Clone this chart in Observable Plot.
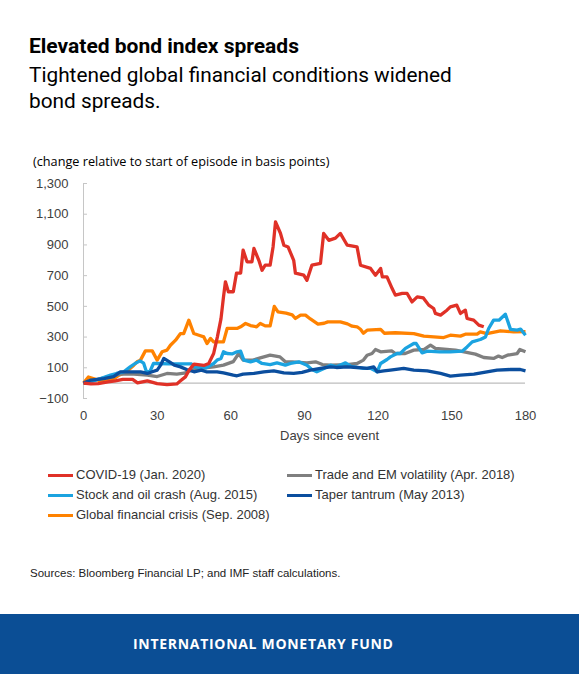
<!DOCTYPE html>
<html>
<head>
<meta charset="utf-8">
<script src="https://cdn.jsdelivr.net/npm/d3@7"></script>
<script src="https://cdn.jsdelivr.net/npm/@observablehq/plot@0.6"></script>
<style>
  html, body { margin: 0; padding: 0; background: #fff; }
  #page { position: relative; width: 579px; height: 674px; overflow: hidden; background: #fff; }
  .abs { position: absolute; white-space: nowrap; }
  #title { left: 29px; top: 34px; font: 700 21px/24px Roboto, sans-serif; color: #000; }
  #subtitle { left: 29px; top: 62px; width: 445px; white-space: normal; font: 400 20.8px/26px Roboto, sans-serif; color: #000; }
  #unit { left: 33px; top: 152px; font: 400 12.7px/18px "Open Sans", sans-serif; color: #000; }
  #chart { position: absolute; left: 0; top: 140px; }
  .leg { position: absolute; font: 13px/16px "Liberation Sans", Arial, sans-serif; color: #333; white-space: nowrap; }
  .leg span.sw { position: absolute; left: -28px; top: 6.5px; width: 25px; height: 3px; }
  #source { left: 30px; top: 566px; font: 11.5px/14px "Liberation Sans", Arial, sans-serif; color: #222; }
  #footer { position: absolute; left: 0; top: 614px; width: 579px; height: 60px; background: #0B4E95; }
  #footer div { position: absolute; left: 133px; top: 21px; font: 700 14px/18px "Open Sans", sans-serif; letter-spacing: 0.7px; color: #fff; white-space: nowrap; }
</style>
</head>
<body>
<div id="page">
  <div id="title" class="abs">Elevated bond index spreads</div>
  <div id="subtitle" class="abs">Tightened global financial conditions widened bond spreads.</div>
  <div id="unit" class="abs">(change relative to start of episode in basis points)</div>
  <div id="chart"></div>
  <div id="legend"></div>
  <div id="source" class="abs">Sources: Bloomberg Financial LP; and IMF staff calculations.</div>
  <div id="footer"><div>INTERNATIONAL MONETARY FUND</div></div>
</div>
<script>
// ---- Data ----
const seriesNames = [
  "COVID-19 (Jan. 2020)",
  "Trade and EM volatility (Apr. 2018)",
  "Stock and oil crash (Aug. 2015)",
  "Taper tantrum (May 2013)",
  "Global financial crisis (Sep. 2008)"
];
const seriesColors = ["#E03127", "#7F7F7F", "#1BA3E0", "#0B4E9E", "#FF8200"];

const covidDays = [0,3,6,10,13,16,20,22,26,30,34,38,39.5,41.5,43,45,49,51,53,54.5,56,57,57.8,59,61,62.3,64,65,66.6,68.6,69.4,71.4,72.7,74,76,77.2,78.2,80.2,81.6,83.3,85.6,86.3,89.7,91,93,96.5,97.8,99.9,102.6,104.6,107.4,111.4,112.8,116.9,118.9,121,121.7,123.6,125.7,127,129.8,131.8,133.8,135.9,138.4,140.6,142.6,143.3,145.4,148,149.4,152,153.5,155.5,156.2,158.9,161,163];
const covidValues = [0,-5,-3,8,15,24,24,2,15,-3,-10,-5,15,41,85,124,115,128,193,300,420,560,660,595,595,716,716,866,790,790,877,800,735,768,768,887,1050,976,898,887,800,716,703,670,768,780,975,930,944,975,898,887,768,747,703,747,692,692,616,573,584,584,529,562,555,508,486,454,443,475,497,508,454,475,421,410,378,367];

const tradeDays = [0,7,15,20.5,26,30,34,38,41,44,47.6,53,57,61,63.2,65,69,72,76,80,82.2,85,91,94.5,97.3,100.6,107.4,111.4,114,115.5,117.5,118.9,121,125.5,127,131,134.5,138.6,141.3,143.3,148,151.5,155,159.6,163,167,169,170.5,172.6,176.6,177.7,180];
const tradeValues = [0,30,59,59,52,43,63,59,65,85,96,106,117,140,193,150,150,165,182,171,139,139,132,139,121,117,121,128,150,182,193,219,204,210,193,193,215,219,247,226,219,215,204,189,167,161,176,167,182,193,219,204];

const stockDays = [0,3,7,11,13.4,16.4,19,21,23,24.5,25.5,27,28.5,30,35,40,44,45,50,53,54.4,56,57,58.5,60.5,62.5,64,65.3,68,70.4,72.7,76,78.8,82.2,84.3,87.7,91,93,95,97.9,100.6,103,106.7,108.8,111.4,114,116.9,119.6,121,123.6,125,127.7,129,131.1,134.5,135.5,137.9,140,145,149.4,154.2,156.2,158.3,161.6,163.7,165,167,169.2,171.8,173.9,176.6,178,180];
const stockValues = [0,10,30,52,63,74,106,128,145,130,80,74,128,128,125,125,125,106,100,128,150,161,204,193,190,204,208,150,139,150,128,121,132,117,128,139,117,89,74,96,117,106,132,110,102,96,96,74,128,154,171,193,193,226,258,258,197,208,204,204,208,236,269,284,301,356,410,410,449,350,345,352,312];

const taperDays = [0,3,8.3,12.3,15,19,23.2,26,28,30,31.4,32.7,35,37,39.5,42,45,48,50,54.4,57,61,62.5,65,69.4,73.4,77.5,81.6,85.6,89,92.4,96.5,100.6,103,107.4,111.4,115.5,118.2,119.6,122.3,125,130.4,134.5,140,145.4,149.4,153.5,159,164.3,168.4,173.9,177.9,180];
const taperValues = [0,20,30,43,74,74,74,63,74,85,117,161,139,117,106,89,74,85,74,74,67,52,48,59,63,74,80,67,63,70,85,96,106,102,106,102,96,106,74,80,85,96,85,80,63,46,52,59,74,85,89,89,80];

const gfcDays = [0,2,4,6,8,12,14.4,16.4,18.5,20.5,21.8,23.2,25.2,28,30,32,34,35.4,37.5,39.5,40.8,42.9,44.9,47,49,50.3,51.7,53,57,58.5,62.5,64,66,68,70.5,72,74,76,77.7,79.2,82.5,85,86.3,88.4,90.4,92.4,95.5,98,99.5,104.6,107.5,109.4,111.4,112.8,114,115.5,121,122.5,127,134.5,138.6,146.7,149.4,153.5,155.5,160.3,161.6,164.3,169.8,175.2,180];
const gfcValues = [0,40,30,20,9,24,52,65,89,117,139,150,210,210,150,204,215,247,280,323,323,410,323,312,301,258,291,269,269,356,356,367,389,375,367,389,373,373,500,464,456,445,421,443,443,418,384,390,399,399,386,371,367,351,325,345,350,325,328,323,306,297,312,306,319,319,334,323,341,334,335];

const xTicks = [0, 30, 60, 90, 120, 150, 180];
const yTicks = [-100, 100, 300, 500, 700, 900, 1100, 1300];
const xLabel = "Days since event";

// ---- Build tables ----
function table(days, values) { return days.map((d, i) => ({day: d, value: values[i]})); }
const allSeries = [
  table(covidDays, covidValues),
  table(tradeDays, tradeValues),
  table(stockDays, stockValues),
  table(taperDays, taperValues),
  table(gfcDays, gfcValues)
];
const drawOrder = [4, 1, 2, 3, 0];

const lineMarks = drawOrder.map(i => Plot.line(allSeries[i], {
  x: "day", y: "value", stroke: seriesColors[i], strokeWidth: 3.3,
  strokeLinejoin: "round", strokeLinecap: "butt"
}));

const chart = Plot.plot({
  width: 579,
  height: 310,
  marginLeft: 83,
  marginRight: 54,
  marginTop: 43,
  marginBottom: 52,
  style: { fontFamily: "'Liberation Sans', Arial, sans-serif", fontSize: "13px", color: "#404040", background: "transparent" },
  x: { domain: [0, 180] },
  y: { domain: [-100, 1300] },
  marks: [
    Plot.frame({ anchor: "left", stroke: "#c6c6c6" }),
    Plot.ruleY([0], { stroke: "#bdbdbd", strokeWidth: 1.2 }),
    Plot.axisY({ ticks: yTicks, tickFormat: d3.format(","), tickSize: 4, dx: 4, tickPadding: 15, stroke: "#c6c6c6", fill: "#404040", label: null }),
    Plot.axisX({ ticks: xTicks, tickSize: 0, tickPadding: 12, fill: "#404040", label: null }),
    Plot.text([xLabel], { frameAnchor: "bottom", dx: 25, dy: 41, fill: "#404040", fontSize: 13 }),
    ...lineMarks
  ]
});
document.getElementById("chart").appendChild(chart);

// ---- Legend ----
const legendPos = [
  {left: 76, top: 467},   // COVID
  {left: 315, top: 467},  // Trade
  {left: 76, top: 487},   // Stock
  {left: 315, top: 487},  // Taper
  {left: 76, top: 507}    // GFC
];
const legend = document.getElementById("legend");
seriesNames.forEach((name, i) => {
  const d = document.createElement("div");
  d.className = "leg";
  d.style.left = legendPos[i].left + "px";
  d.style.top = legendPos[i].top + "px";
  const sw = document.createElement("span");
  sw.className = "sw";
  sw.style.background = seriesColors[i];
  d.appendChild(sw);
  d.appendChild(document.createTextNode(name));
  legend.appendChild(d);
});
</script>
</body>
</html>
